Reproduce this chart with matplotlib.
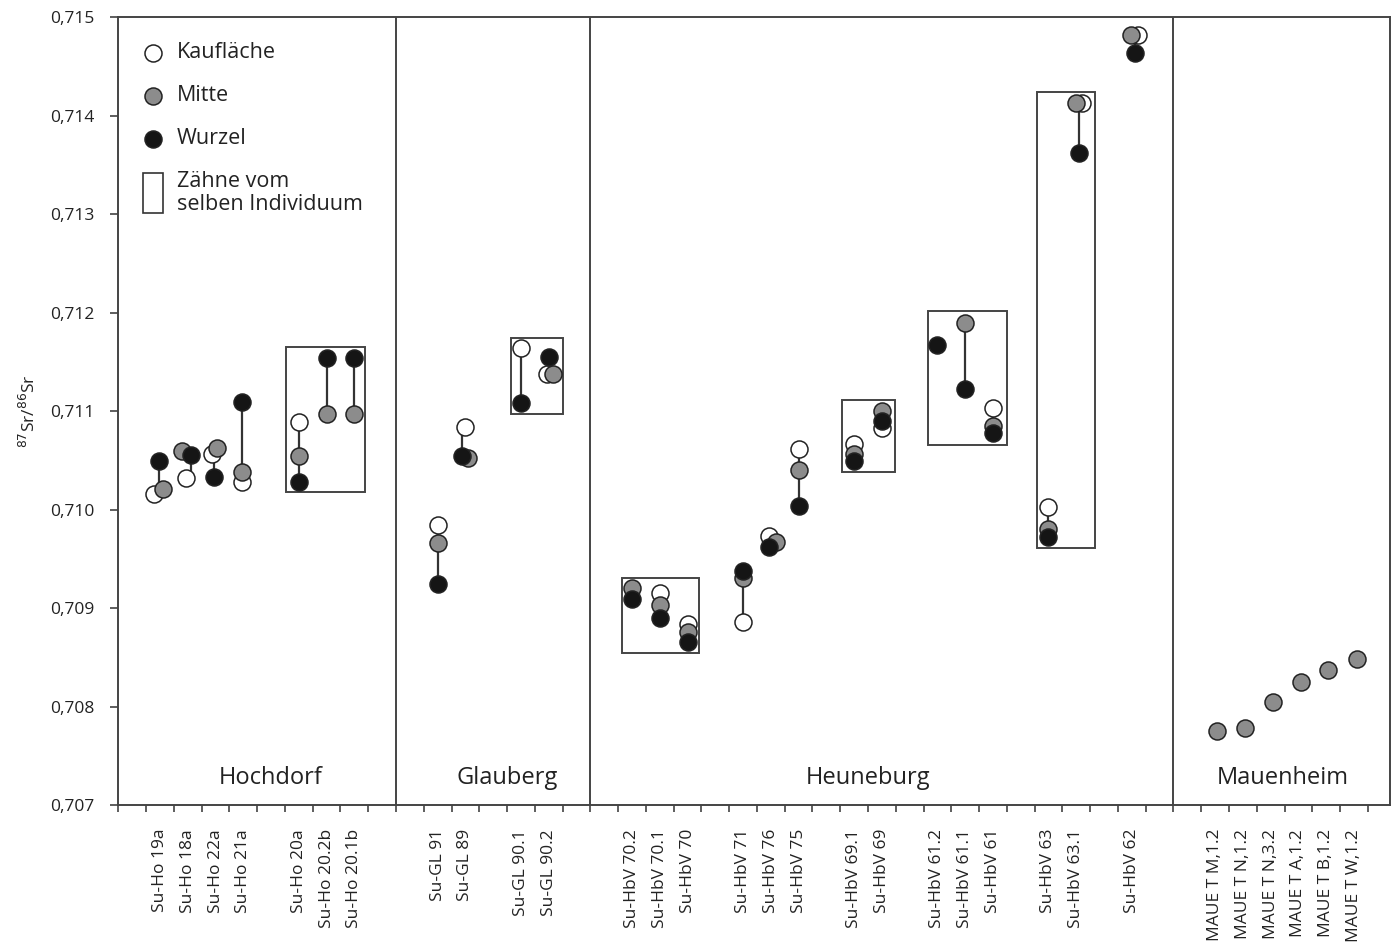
import numpy as np
import matplotlib
matplotlib.use("Agg")
import matplotlib.pyplot as plt
import matplotlib.patches as patches

plt.rcParams['font.family'] = ['Open Sans', 'DejaVu Sans']

# samples and their slot on the x axis (one tick step per slot)
samples = ["Su-Ho 19a", "Su-Ho 18a", "Su-Ho 22a", "Su-Ho 21a",
           "Su-Ho 20a", "Su-Ho 20.2b", "Su-Ho 20.1b",
           "Su-GL 91", "Su-GL 89", "Su-GL 90.1", "Su-GL 90.2",
           "Su-HbV 70.2", "Su-HbV 70.1", "Su-HbV 70",
           "Su-HbV 71", "Su-HbV 76", "Su-HbV 75",
           "Su-HbV 69.1", "Su-HbV 69",
           "Su-HbV 61.2", "Su-HbV 61.1", "Su-HbV 61",
           "Su-HbV 63", "Su-HbV 63.1", "Su-HbV 62",
           "MAUE T M,1.2", "MAUE T N,1.2", "MAUE T N,3.2",
           "MAUE T A,1.2", "MAUE T B,1.2", "MAUE T W,1.2"]
slots = [1, 2, 3, 4, 6, 7, 8,
         11, 12, 14, 15,
         18, 19, 20, 22, 23, 24, 26, 27, 29, 30, 31, 33, 34, 36,
         39, 40, 41, 42, 43, 44]

nan = np.nan
kauflaeche = [0.71016, 0.71032, 0.71057, 0.71028, 0.71089, nan, nan,
              0.70985, 0.71084, 0.71164, 0.71138,
              nan, 0.70916, 0.70884, 0.70886, 0.70973, 0.71062,
              0.71067, 0.71083, nan, nan, 0.71103,
              0.71003, 0.71413, 0.71482,
              nan, nan, nan, nan, nan, nan]
mitte = [0.71021, 0.71060, 0.71063, 0.71038, 0.71055, 0.71097, 0.71097,
         0.70966, 0.71053, nan, 0.71138,
         0.70921, 0.70903, 0.70876, 0.70931, 0.70967, 0.71040,
         0.71057, 0.71100, nan, 0.71190, 0.71085,
         0.70980, 0.71413, 0.71482,
         0.70775, 0.70778, 0.70805, 0.70825, 0.70837, 0.70849]
wurzel = [0.71049, 0.71056, 0.71033, 0.71109, 0.71028, 0.71154, 0.71154,
          0.70925, 0.71055, 0.71108, 0.71155,
          0.70909, 0.70890, 0.70866, 0.70938, 0.70962, 0.71004,
          0.71049, 0.71090, 0.71167, 0.71123, 0.71078,
          0.70972, 0.71362, 0.71464,
          nan, nan, nan, nan, nan, nan]

# small sideways shifts of overlapping dots (in slot units)
shift_k = [-0.22, -0.05, -0.14, -0.05, 0, 0, 0, 0, 0, 0, -0.07,
           0, 0, 0, 0, -0.05, 0, 0, 0, 0, 0, 0, 0, 0.21, 0.22,
           0, 0, 0, 0, 0, 0]
shift_m = [0.10, -0.22, 0.04, -0.05, 0, 0, 0, 0, 0.10, 0, 0.17,
           0, 0, 0, 0, 0.19, 0, 0, 0, 0, 0, 0, 0, -0.01, -0.04,
           0.08, 0.08, 0.1, 0.1, 0.08, 0.1]
shift_w = [-0.05, 0.10, -0.05, -0.05, 0, 0, 0, 0, -0.14, 0, 0,
           0, 0, 0, 0, -0.05, 0, 0, 0, 0, 0, 0, 0, 0.11, 0.13,
           0, 0, 0, 0, 0, 0]

# boxes: teeth from the same individual (x0, x1 in slots, y0, y1)
boxes = [(6.04, 8.89, 0.71018, 0.71165),
         (14.15, 16.03, 0.71097, 0.71174),
         (18.13, 20.93, 0.70855, 0.70931),
         (26.08, 27.98, 0.71038, 0.71111),
         (29.16, 32.00, 0.71066, 0.71202),
         (33.08, 35.16, 0.70961, 0.71424)]

sites = ["Hochdorf", "Glauberg", "Heuneburg", "Mauenheim"]
site_pos = [5.5, 14.0, 27.0, 41.95]
site_breaks = [10, 17, 38]

yticks = [0.707, 0.708, 0.709, 0.710, 0.711, 0.712, 0.713, 0.714, 0.715]

fig = plt.figure(figsize=(13.97, 9.49), dpi=100)
ax = fig.add_axes([0.0847, 0.1514, 0.9103, 0.8305])

xpos = np.array(slots) + 0.5
K = np.array(kauflaeche)
M = np.array(mitte)
W = np.array(wurzel)

# vertical connectors per sample
for i in range(len(samples)):
    vals = np.array([K[i], M[i], W[i]])
    vals = vals[~np.isnan(vals)]
    if len(vals) > 1:
        xl = xpos[i] + (shift_w[i] if not np.isnan(W[i]) else shift_m[i])
        ax.plot([xl, xl], [vals.min(), vals.max()], color='#333333', lw=1.6, zorder=2)

mk = dict(s=150, edgecolors='#222222', linewidths=1.1)
ax.scatter(xpos + np.array(shift_k), K, facecolors='white', zorder=3, **mk)
ax.scatter(xpos + np.array(shift_m), M, facecolors='#8c8c8c', zorder=4, **mk)
ax.scatter(xpos + np.array(shift_w), W, facecolors='#151515', zorder=5, **mk)

for x0, x1, y0, y1 in boxes:
    ax.add_patch(patches.Rectangle((x0, y0), x1 - x0, y1 - y0, fill=False,
                                   edgecolor='#444444', lw=1.4, zorder=1))

for b in site_breaks:
    ax.axvline(b, color='#444444', lw=1.4, zorder=1)

for name, p in zip(sites, site_pos):
    ax.text(p, 0.70728, name, ha='center', va='center', fontsize=17, color='#222222')

ax.set_xlim(0, 45.8)
ax.set_ylim(0.707, 0.715)

ax.set_yticks(yticks)
ax.set_yticklabels([f"{v:.3f}".replace('.', ',') for v in yticks])
ax.set_xticks(np.arange(0, 46))
ax.set_xticklabels([])
ax.set_xticks(xpos, minor=True)
ax.set_xticklabels(samples, minor=True, rotation=90)
ax.tick_params(axis='x', which='major', direction='out', length=5, width=1.1, color='#333333')
ax.tick_params(axis='x', which='minor', length=0, pad=17, labelsize=12.5, labelcolor='#222222')
ax.tick_params(axis='y', direction='out', length=6, width=1.1, pad=11,
               labelsize=12.5, labelcolor='#222222', color='#333333')

for sp in ax.spines.values():
    sp.set_linewidth(1.4)
    sp.set_color('#444444')

ax.set_ylabel(r'$^{87}$Sr/$^{86}$Sr', fontsize=12.5, color='#222222', labelpad=8)

# legend drawn by hand
tr = ax.transAxes
ax.scatter([0.0273], [0.9546], transform=tr, facecolors='white', zorder=6, **mk)
ax.scatter([0.0273], [0.9000], transform=tr, facecolors='#8c8c8c', zorder=6, **mk)
ax.scatter([0.0273], [0.8455], transform=tr, facecolors='#151515', zorder=6, **mk)
ax.add_patch(patches.Rectangle((0.0194, 0.7516), 0.0158, 0.0507, transform=tr,
                               fill=False, edgecolor='#333333', lw=1.2))
lt = dict(transform=tr, fontsize=15.5, color='#222222', va='center', ha='left')
ax.text(0.0462, 0.9546, "Kaufläche", **lt)
ax.text(0.0462, 0.9000, "Mitte", **lt)
ax.text(0.0462, 0.8455, "Wurzel", **lt)
ax.text(0.0462, 0.7768, "Zähne vom\nselben Individuum", linespacing=1.15, **lt)

fig.savefig("out.png", dpi=100)
